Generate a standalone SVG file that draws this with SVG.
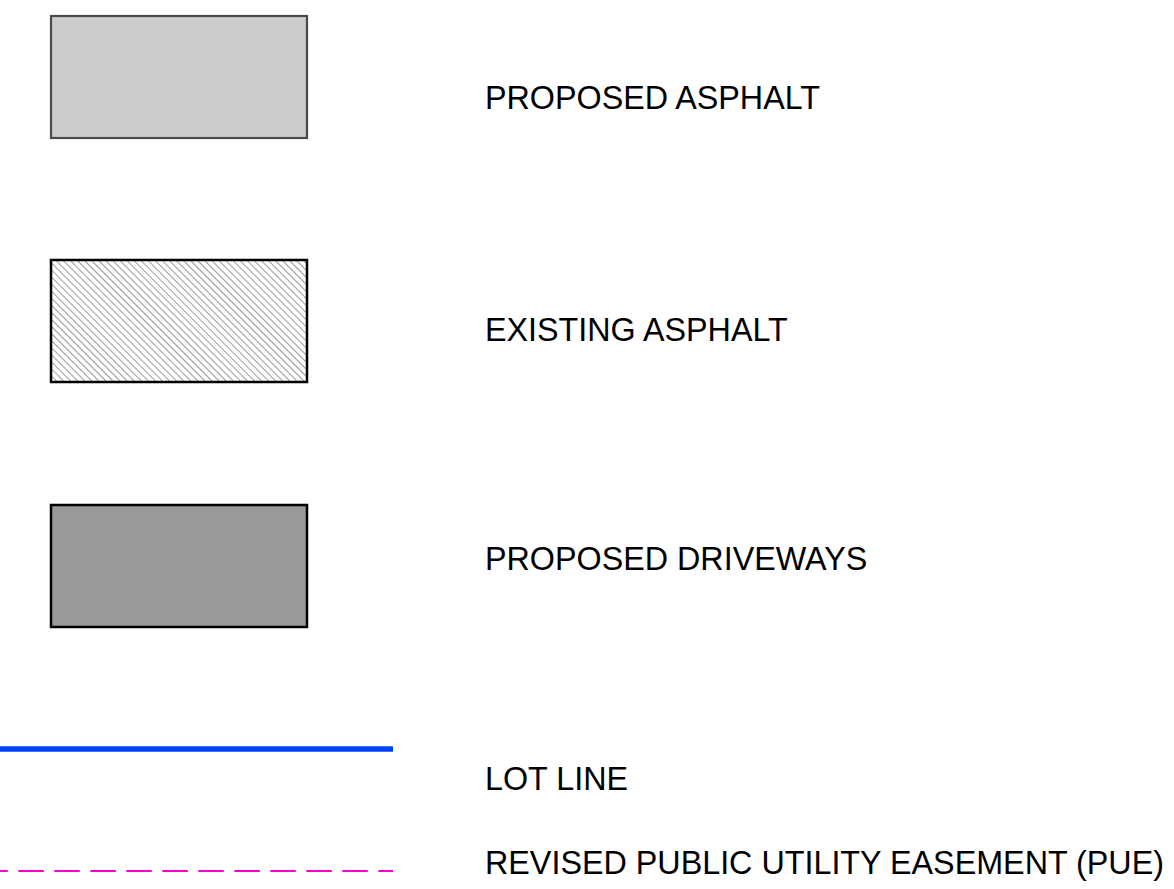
<svg xmlns="http://www.w3.org/2000/svg" width="1174" height="889" viewBox="0 0 1174 889">
<style>
.lbl{font-family:"Liberation Sans",Arial,sans-serif;font-size:32.3px;fill:#000}
</style>
<defs>
<pattern id="hatch" patternUnits="userSpaceOnUse" width="5" height="5" patternTransform="rotate(-45)">
<line x1="0" y1="-1" x2="0" y2="6" stroke="#555" stroke-width="1.2"/>
</pattern>
</defs>
<rect width="1174" height="889" fill="#fff"/>
<g id="proposed-asphalt">
<rect x="51" y="16" width="256" height="122" fill="#cbcbcb" stroke="#4a4a4a" stroke-width="2.2"/>
<text class="lbl" x="485" y="109">PROPOSED ASPHALT</text>
</g>
<g id="existing-asphalt">
<rect x="51" y="260" width="256" height="122" fill="#fff"/>
<rect x="51" y="260" width="256" height="122" fill="url(#hatch)" stroke="#000" stroke-width="2.5"/>
<text class="lbl" x="485" y="341">EXISTING ASPHALT</text>
</g>
<g id="proposed-driveways">
<rect x="51" y="505" width="256" height="122" fill="#999" stroke="#000" stroke-width="2.5"/>
<text class="lbl" x="485" y="570">PROPOSED DRIVEWAYS</text>
</g>
<g id="lot-line">
<line x1="0" y1="749" x2="393" y2="749" stroke="#0040ff" stroke-width="5.5"/>
<text class="lbl" x="485" y="790">LOT LINE</text>
</g>
<g id="pue">
<line x1="0" y1="871" x2="393" y2="871" stroke="#ff00cc" stroke-width="2" stroke-dasharray="25.5 10.5" stroke-dashoffset="17.7"/>
<text class="lbl" x="485" y="874">REVISED PUBLIC UTILITY EASEMENT (PUE)</text>
</g>
</svg>
